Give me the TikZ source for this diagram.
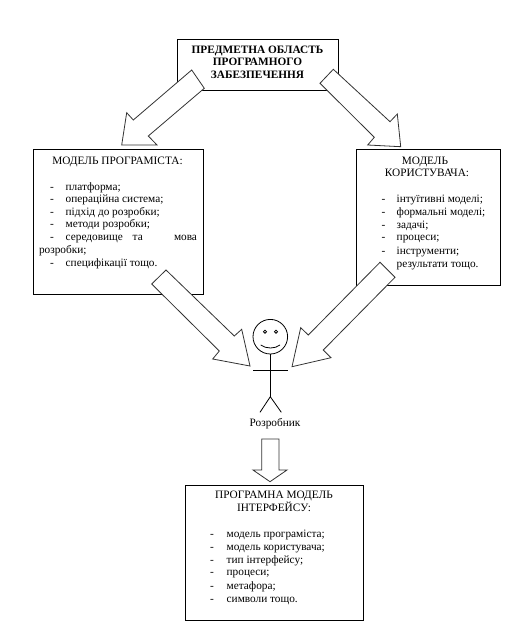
\documentclass[tikz,border=0pt]{standalone}
\usepackage{fontspec}
\setmainfont{Liberation Serif}
\tikzset{
  x=1pt,y=-1pt,
  boxnode/.style={draw=black,line width=1.2pt,fill=white,inner sep=0pt,anchor=north west},
  blockarrow/.style={draw=black!80,line width=0.8pt,fill=white,line join=miter},
  txt/.style={inner sep=0pt,outer sep=0pt,font=\fontsize{11.3}{13}\selectfont,text=black},
  head/.style={txt,anchor=center,text height=9pt,text depth=2pt},
  bhead/.style={head,font=\fontsize{11.3}{13}\selectfont\bfseries},
  item/.style={txt,anchor=west,text height=7pt,text depth=2pt},
  stick/.style={draw=black,line width=0.8pt}
}
\begin{document}
\begin{tikzpicture}
\useasboundingbox (0,0) rectangle (531,636);
\fill[white] (0,0) rectangle (531,636);
% boxes
\node[boxnode,minimum width=161pt,minimum height=51pt] (top) at (177,39) {};
\node[boxnode,minimum width=170pt,minimum height=145pt] (left) at (33,149) {};
\node[boxnode,minimum width=144pt,minimum height=136pt] (right) at (356,149) {};
\node[boxnode,minimum width=178pt,minimum height=135pt] (bottom) at (185,485) {};
% top
\node[bhead] (t1) at (257.5,50) {ПРЕДМЕТНА ОБЛАСТЬ};
\node[bhead] (t2) at (257.5,62) {ПРОГРАМНОГО};
\node[bhead] (t3) at (257.5,75) {ЗАБЕЗПЕЧЕННЯ};
% left
\node[head] (l0) at (117.5,160.7) {МОДЕЛЬ ПРОГРАМІСТА:};
\foreach \n/\y/\s in {1/187.7/платформа;,2/200/операційна система;,3/212.7/підхід до розробки;,4/225.3/методи розробки;,6/264.3/специфікації тощо.}{
  \node[item] (ld\n) at (50,\y) {-};
  \node[item] (lt\n) at (65.7,\y) {\s};
}
\node[item] (ld5) at (50,238.3) {-};
\node[item] (lt5a) at (65.7,238.3) {середовище};
\node[item] (lt5b) at (132.7,238.3) {та};
\node[item] (lt5c) at (174,238.3) {мова};
\node[item] (lt5d) at (39,251) {розробки;};
% right
\node[head] (r0) at (425,160.7) {МОДЕЛЬ};
\node[head] (r00) at (427,173.3) {КОРИСТУВАЧА:};
\foreach \n/\y/\s in {1/200/інтуїтивні моделі;,2/212.7/формальні моделі;,3/225.7/задачі;,4/238.3/процеси;,5/251.7/інструменти;}{
  \node[item] (rd\n) at (381.7,\y) {-};
  \node[item] (rt\n) at (396.7,\y) {\s};
}
\node[item] (rt6) at (396.7,265) {результати тощо.};
% bottom
\node[head] (b0) at (274,495) {ПРОГРАМНА МОДЕЛЬ};
\node[head] (b00) at (274,507.7) {ІНТЕРФЕЙСУ:};
\foreach \n/\y/\s in {1/535/модель програміста;,2/548.3/модель користувача;,3/560.7/тип інтерфейсу;,4/573.3/процеси;,5/586.7/метафора;,6/600/символи тощо.}{
  \node[item] (bd\n) at (210,\y) {-};
  \node[item] (bt\n) at (226.7,\y) {\s};
}
% block arrows (drawn over the boxes and their text)
\draw[blockarrow] (191.7,70)--(133.3,120)--(126.7,112.7)--(121.7,145)--(157,145)--(148.3,136)--(204.3,88.3)--cycle;
\draw[blockarrow] (333.3,69.3)--(320,83.3)--(374.3,137.3)--(367.7,145)--(400.7,146.7)--(397.3,114)--(390,121.7)--cycle;
\draw[blockarrow] (166,270)--(151.7,284)--(219.3,351)--(212.7,359)--(250,366)--(241.7,329.3)--(234.3,336)--cycle;
\draw[blockarrow] (380,262.3)--(308.3,335)--(300.7,327.7)--(292,366.7)--(331,357.7)--(323.3,350)--(395,277.3)--cycle;
\draw[blockarrow] (261.7,439)--(261.7,470)--(253,470)--(270,481.7)--(287,470)--(279,470)--(279,439)--cycle;
% stick figure
\draw[stick] (270.3,336.7) circle (17.3);
\draw[stick] (265,331.7) circle (1.6);
\draw[stick] (276,331.7) circle (1.6);
\draw[stick] (260.7,345) .. controls (266,349) and (275,349) .. (280,345);
\draw[stick] (270.3,354)--(270.3,396.7);
\draw[stick] (253.3,370.3)--(287.7,370.3);
\draw[stick] (260,412.3)--(270.3,396.7)--(281.3,412.3);
\node[head] (dev) at (275,423) {Розробник};
\end{tikzpicture}
\end{document}
